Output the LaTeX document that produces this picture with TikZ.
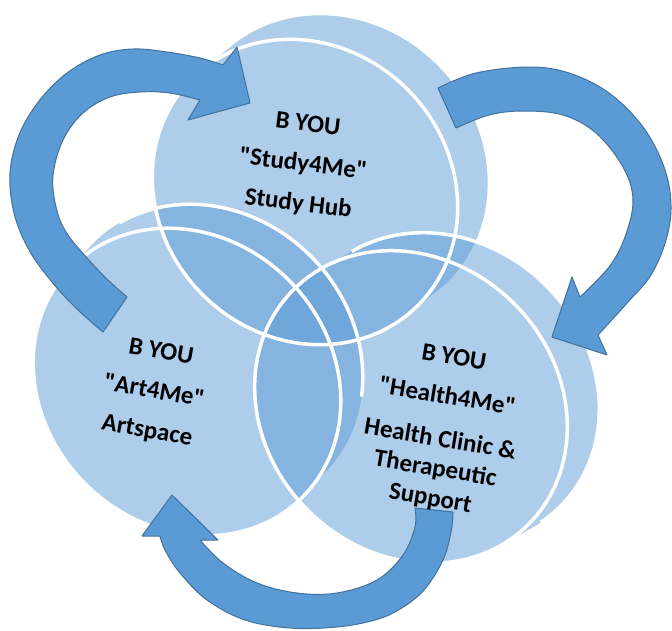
\documentclass[tikz,border=0pt]{standalone}
\usepackage{fontspec}
\newfontfamily\cfont{Carlito}
\definecolor{vblue}{HTML}{5B9BD5}
\definecolor{vedge}{HTML}{41719C}
\begin{document}
\begin{tikzpicture}[x=1pt,y=-1pt,
  vfill/.style={fill=vblue, fill opacity=0.5},
  ring/.style={draw=white, line width=3.5pt},
  barrow/.style={fill=vblue, draw=vedge, line width=1pt, line join=round},
  lbl/.style={font=\cfont\bfseries\fontsize{25}{30}\selectfont, align=center, text=black, inner sep=0pt}]
\useasboundingbox (0,0) rectangle (672,630);

% ---- fills (front face + extrusion) ----
\begin{scope}[shift={(305,192)}, rotate=-45]
  \fill[vfill] \foreach \k in {0,...,8}{ ({\k/8*4.24},{-\k/8*38.18}) ellipse[x radius=160pt, y radius=145pt] };
\end{scope}
\begin{scope}[shift={(187,382)}, rotate=-45]
  \fill[vfill] \foreach \k in {0,...,8}{ ({-\k/8*1.41},{-\k/8*32.5}) ellipse[x radius=163pt, y radius=144pt] };
\end{scope}
\begin{scope}[shift={(411,407)}, rotate=-45]
  \fill[vfill] \foreach \k in {0,...,8}{ ({\k/8*9.9},{-\k/8*35.4}) ellipse[x radius=166pt, y radius=146pt] };
\end{scope}

% ---- white outlines ----
\begin{scope}[shift={(305,192)}, rotate=-45]
  \draw[ring] (0,0) ellipse[x radius=160pt, y radius=145pt];
\end{scope}
\begin{scope}[shift={(187,382)}, rotate=-45]
  \draw[ring] (0,0) ellipse[x radius=163pt, y radius=144pt];
\end{scope}
\begin{scope}[shift={(411,407)}, rotate=-45]
  \draw[ring] (0,0) ellipse[x radius=166pt, y radius=146pt];
\end{scope}
\draw[ring] plot[domain=34:167, samples=80] ({209+0.7071*(163*cos(\x)+144*sin(\x))},{358+0.7071*(163*cos(\x)-144*sin(\x))});
\draw[ring] plot[domain=-10:167, samples=80] ({443+0.7071*(166*cos(\x)+146*sin(\x))},{389+0.7071*(166*cos(\x)-146*sin(\x))});

% ---- curved arrows ----
\draw[barrow] plot[smooth, tension=0.6] coordinates {(103,332) (77,309) (52,282) (29,250) (14,213) (10,173) (19,135) (39,101) (67,73) (100,55) (133,49) (167,52) (200,58) (223,65)}
  -- (237,47) -- (250,103) -- (188,120)
  -- plot[smooth, tension=0.6] coordinates {(200,100) (170,93) (140,92) (110,97) (83,113) (63,140) (53,175) (56,207) (66,232) (87,258) (108,280) (127,297)} -- cycle;

\draw[barrow] plot[smooth, tension=0.6] coordinates {(438,88) (476,73) (529,67) (569,73) (609,93) (643,127) (664,167) (671,205) (666,240) (651,275) (628,302) (598,335)}
  -- (607,355) -- (552,337) -- (572,277)
  -- plot[smooth, tension=0.6] coordinates {(580,297) (609,267) (625,237) (633,200) (623,167) (596,133) (563,115) (523,111) (489,115) (456,128)} -- cycle;

\draw[barrow] plot[smooth, tension=0.6] coordinates {(453,512) (451,532) (443,560) (424,590) (400,609) (375,620) (337,627) (290,628) (245,620) (207,600) (180,573) (165,550) (160,536)}
  -- (142,536) -- (172,495) -- (218,540)
  -- plot[smooth, tension=0.6] coordinates {(200,540) (223,563) (257,583) (297,593) (337,593) (377,580) (403,555) (415,527) (415,508)} -- cycle;

% ---- labels ----
\node[lbl, rotate=-7] (study) at (303,165) {B YOU\\[10pt]"Study4Me"\\[10pt]Study Hub};
\node[lbl, rotate=-10] (art) at (154,392) {B YOU\\[10pt]"Art4Me"\\[10pt]Artspace};
\node[lbl, rotate=-9.5] (health) at (442,429) {B YOU\\[10pt]"Health4Me"\\[13pt]Health Clinic \&\\Therapeutic\\Support};
\end{tikzpicture}
\end{document}
